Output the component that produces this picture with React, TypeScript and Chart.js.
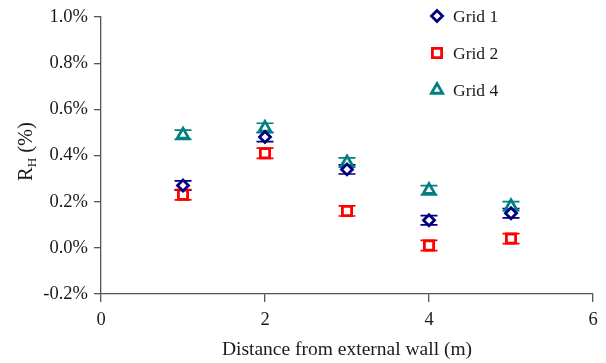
import React, { useEffect, useRef } from "react";
import { Chart, registerables } from "chart.js";

Chart.register(...registerables);

// Measurement positions (m) and horizontal-load ratio R_H (%) per grid
const distances = [1, 2, 3, 4, 5];
const grid1 = [0.27, 0.48, 0.34, 0.12, 0.15];
const grid2 = [0.23, 0.41, 0.16, 0.01, 0.04];
const grid4 = [0.49, 0.52, 0.37, 0.25, 0.18];
const grid1Err = [0.02, 0.02, 0.02, 0.02, 0.02];
const grid2Err = [0.022, 0.022, 0.022, 0.022, 0.022];
const grid4Err = [0.02, 0.02, 0.02, 0.02, 0.02];
const seriesNames = ["Grid 1", "Grid 2", "Grid 4"];
const seriesColors = ["#000080", "#ff0000", "#008080"];
const xAxisTitle = "Distance from external wall (m)";

const FONT = "'Liberation Serif', 'Times New Roman', serif";
const TEXT = "#1a1a1a";
const AXIS = "#555555";

type Shape = "rectRot" | "rect" | "triangle";
const shapes: Shape[] = ["rectRot", "rect", "triangle"];
const radii = [5.5, 6.5, 6.5];
const markerLine = 2.8;

function drawMarker(ctx: CanvasRenderingContext2D, shape: Shape, x: number, y: number, r: number, color: string) {
  ctx.save();
  ctx.beginPath();
  if (shape === "rectRot") {
    ctx.moveTo(x, y - r);
    ctx.lineTo(x + r, y);
    ctx.lineTo(x, y + r);
    ctx.lineTo(x - r, y);
    ctx.closePath();
  } else if (shape === "rect") {
    const s = r * Math.SQRT1_2;
    ctx.rect(x - s, y - s, 2 * s, 2 * s);
  } else {
    const a = (2 * Math.PI) / 3;
    ctx.moveTo(x, y - r);
    ctx.lineTo(x + Math.sin(a) * r, y - Math.cos(a) * r);
    ctx.lineTo(x + Math.sin(2 * a) * r, y - Math.cos(2 * a) * r);
    ctx.closePath();
  }
  ctx.fillStyle = "#ffffff";
  ctx.fill();
  ctx.lineWidth = markerLine;
  ctx.strokeStyle = color;
  ctx.stroke();
  ctx.restore();
}

const errors = [grid1Err, grid2Err, grid4Err];

const errorBars = {
  id: "errorBars",
  beforeDatasetsDraw(chart: any) {
    const { ctx } = chart;
    const yScale = chart.scales.y;
    chart.data.datasets.forEach((ds: any, i: number) => {
      const meta = chart.getDatasetMeta(i);
      const err = errors[i];
      ctx.save();
      ctx.strokeStyle = seriesColors[i];
      ctx.lineWidth = 1.7;
      meta.data.forEach((pt: any, j: number) => {
        const v = ds.data[j].y;
        const top = yScale.getPixelForValue(v + err[j]);
        const bot = yScale.getPixelForValue(v - err[j]);
        const x = pt.x;
        const w = 8.5;
        ctx.beginPath();
        ctx.moveTo(x, top);
        ctx.lineTo(x, bot);
        ctx.moveTo(x - w, top);
        ctx.lineTo(x + w, top);
        ctx.moveTo(x - w, bot);
        ctx.lineTo(x + w, bot);
        ctx.stroke();
      });
      ctx.restore();
    });
  },
};

const legendAndTitle = {
  id: "legendAndTitle",
  afterDraw(chart: any) {
    const { ctx, chartArea } = chart;
    // Legend, stacked in the upper right of the plot
    const lx = 437;
    const rows = [16, 53, 90];
    seriesNames.forEach((name, i) => {
      drawMarker(ctx, shapes[i], lx, rows[i], radii[i], seriesColors[i]);
      ctx.save();
      ctx.font = `17.5px ${FONT}`;
      ctx.fillStyle = TEXT;
      ctx.textBaseline = "middle";
      ctx.textAlign = "left";
      ctx.fillText(name, lx + 16, rows[i] + 1);
      ctx.restore();
    });

    // Vertical axis title: R with subscript H, then (%)
    const cx = 26;
    const cy = (chartArea.top + chartArea.bottom) / 2 - 4;
    ctx.save();
    ctx.translate(cx, cy);
    ctx.rotate(-Math.PI / 2);
    ctx.fillStyle = TEXT;
    ctx.textBaseline = "alphabetic";
    const big = `20.5px ${FONT}`;
    const small = `13px ${FONT}`;
    ctx.font = big;
    const wR = ctx.measureText("R").width;
    const wRest = ctx.measureText(" (%)").width;
    ctx.font = small;
    const wH = ctx.measureText("H").width;
    const total = wR + wH + wRest;
    let x = -total / 2;
    const base = 6;
    ctx.font = big;
    ctx.fillText("R", x, base);
    x += wR;
    ctx.font = small;
    ctx.fillText("H", x, base + 4);
    x += wH;
    ctx.font = big;
    ctx.fillText(" (%)", x, base);
    ctx.restore();
  },
};

export default function App() {
  const ref = useRef<HTMLCanvasElement | null>(null);

  useEffect(() => {
    if (!ref.current) return;
    const series = [grid1, grid2, grid4];
    const chart = new Chart(ref.current, {
      type: "scatter",
      data: {
        datasets: series.map((vals, i) => ({
          label: seriesNames[i],
          data: distances.map((d, j) => ({ x: d, y: vals[j] })),
          pointStyle: shapes[i],
          pointRadius: radii[i],
          pointBorderWidth: markerLine,
          pointBorderColor: seriesColors[i],
          pointBackgroundColor: "#ffffff",
          borderColor: seriesColors[i],
          backgroundColor: "#ffffff",
          showLine: false,
        })),
      },
      options: {
        animation: false,
        responsive: true,
        maintainAspectRatio: false,
        layout: { padding: { left: 0, right: 13, top: 15, bottom: 0 } },
        plugins: {
          legend: { display: false },
          tooltip: { enabled: false },
        },
        scales: {
          x: {
            type: "linear",
            min: 0,
            max: 6,
            ticks: {
              stepSize: 2,
              color: TEXT,
              font: { family: FONT, size: 18.5 },
              padding: 7,
              maxRotation: 0,
            },
            grid: { display: true, drawOnChartArea: false, drawTicks: true, tickLength: 8, color: AXIS, lineWidth: 1.3 },
            border: { display: true, color: AXIS, width: 1.3 },
            title: {
              display: true,
              text: xAxisTitle,
              color: TEXT,
              font: { family: FONT, size: 19.5 },
              padding: { top: 4, bottom: 1 },
            },
            afterFit(scale: any) {
              scale.height = 69;
            },
          },
          y: {
            type: "linear",
            min: -0.2,
            max: 1.0,
            ticks: {
              stepSize: 0.2,
              color: TEXT,
              font: { family: FONT, size: 18.5 },
              padding: 6,
              callback: (v: any) => {
                const n = Math.round(Number(v) * 10) / 10;
                return `${(n === 0 ? 0 : n).toFixed(1)}%`;
              },
            },
            grid: { display: true, drawOnChartArea: false, drawTicks: true, tickLength: 7, color: AXIS, lineWidth: 1.3 },
            border: { display: true, color: AXIS, width: 1.3 },
            afterFit(scale: any) {
              scale.width = 101;
            },
          },
        },
      },
      plugins: [errorBars, legendAndTitle],
    });
    return () => chart.destroy();
  }, []);

  return (
    <div style={{ position: "absolute", left: 0, top: 0, width: 606, height: 363, background: "#ffffff" }}>
      <canvas ref={ref} />
    </div>
  );
}
